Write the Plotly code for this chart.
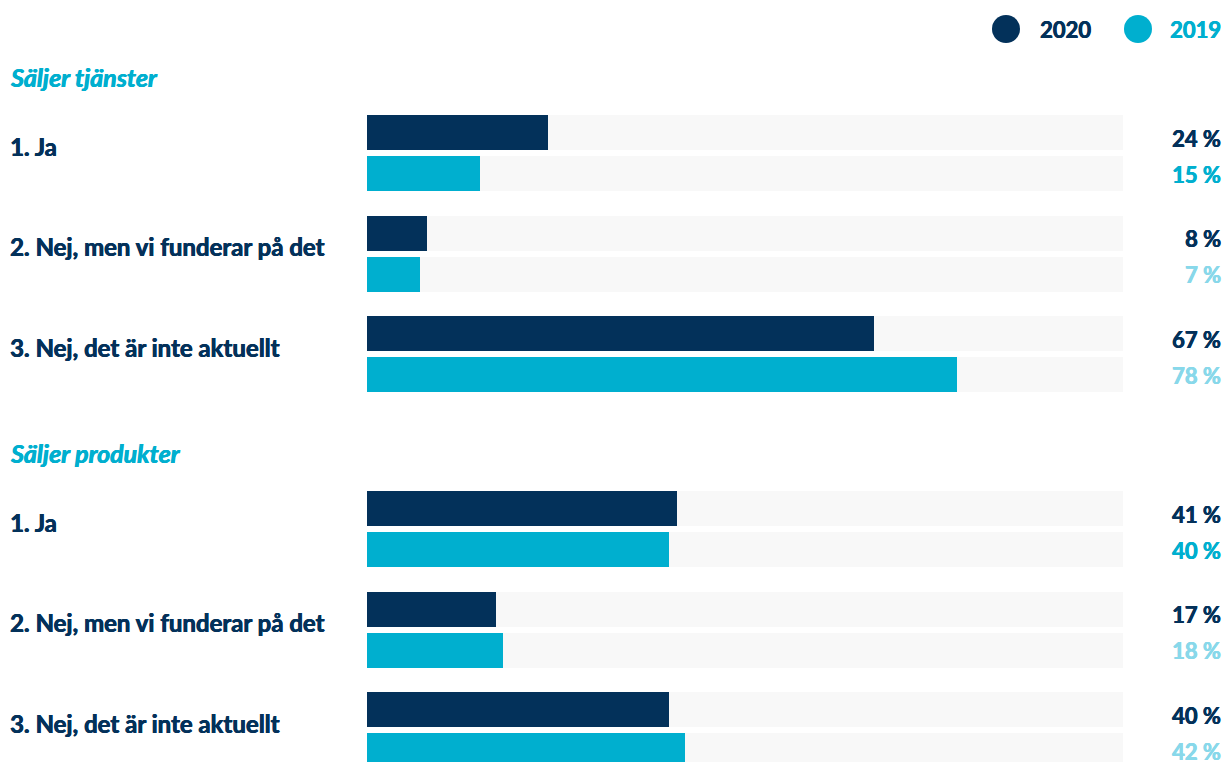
import plotly.graph_objects as go

# Survey results: share of companies (%) per answer, 2020 vs 2019
sections = ["Säljer tjänster", "Säljer produkter"]
answers = ["1. Ja", "2. Nej, men vi funderar på det", "3. Nej, det är inte aktuellt"]
values_2020 = [[24, 8, 67], [41, 17, 40]]
values_2019 = [[15, 7, 78], [40, 18, 42]]
years = ["2020", "2019"]

NAVY = "#03315a"
CYAN = "#00afcf"
LIGHT_CYAN = "#88d8ea"
TRACK = "#f8f8f8"
FONT = "Lato"

W, H = 1225, 762
PLOT_L, PLOT_R = 367, 1123          # pixel extent of the 0-100 % track
BAR_H = 35                           # bar thickness in pixels
section_tops = [77, 453]             # y pixel of each section title
ROW_START = 38                       # offset from title to first row
ROW_STEP = 100.5                     # distance between answer rows
OFF_2020, OFF_2019 = 17.5, 58.5      # bar centre offsets within a row

# 2019 value label colours: first row highlighted, others muted
label_2019_colors = [CYAN, LIGHT_CYAN, LIGHT_CYAN]


def heavy(size, color):
    """Bold font with a thin same-colour shadow for a heavier stroke."""
    return dict(family=FONT, size=size, color=color,
                shadow=f"0.45px 0 0 {color}, -0.3px 0 0 {color}")


y20, y19, x20, x19, row_tops = [], [], [], [], []
for s, top in enumerate(section_tops):
    for r in range(len(answers)):
        rt = top + ROW_START + r * ROW_STEP
        row_tops.append((s, r, rt))
        y20.append(rt + OFF_2020)
        y19.append(rt + OFF_2019)
        x20.append(values_2020[s][r])
        x19.append(values_2019[s][r])

fig = go.Figure()
fig.add_trace(go.Bar(
    x=[100] * (len(y20) + len(y19)), y=y20 + y19, orientation="h",
    width=BAR_H, marker=dict(color=TRACK, line=dict(width=0)),
    hoverinfo="skip", showlegend=False,
))
fig.add_trace(go.Bar(
    x=x20, y=y20, orientation="h", width=BAR_H, name=years[0],
    marker=dict(color=NAVY, line=dict(width=0)), showlegend=False,
))
fig.add_trace(go.Bar(
    x=x19, y=y19, orientation="h", width=BAR_H, name=years[1],
    marker=dict(color=CYAN, line=dict(width=0)), showlegend=False,
))

annotations = []
for s, top in enumerate(section_tops):
    annotations.append(dict(
        x=8 / W, xref="paper", y=top, yref="y", xanchor="left", yanchor="middle",
        text=f"<b><i>{sections[s]}</i></b>", showarrow=False,
        font=heavy(25, CYAN),
    ))
for s, r, rt in row_tops:
    annotations.append(dict(
        x=8 / W, xref="paper", y=rt + 31, yref="y", xanchor="left", yanchor="middle",
        text=f"<b>{answers[r]}</b>", showarrow=False,
        font=heavy(24, NAVY),
    ))
    annotations.append(dict(
        x=1223 / W, xref="paper", y=rt + 23, yref="y", xanchor="right", yanchor="middle",
        text=f"<b>{values_2020[s][r]} %</b>", showarrow=False,
        font=heavy(22, NAVY),
    ))
    annotations.append(dict(
        x=1223 / W, xref="paper", y=rt + 59, yref="y", xanchor="right", yanchor="middle",
        text=f"<b>{values_2019[s][r]} %</b>", showarrow=False,
        font=heavy(22, label_2019_colors[r]),
    ))

# Legend: filled circles with year labels in the top right corner
legend_items = [(years[0], NAVY, 1006, 1093), (years[1], CYAN, 1138, 1223)]
shapes = []
for label, color, cx, tx in legend_items:
    shapes.append(dict(
        type="circle", xref="paper", yref="y",
        x0=(cx - 14) / W, x1=(cx + 14) / W, y0=29 - 14, y1=29 + 14,
        fillcolor=color, line=dict(width=0),
    ))
    annotations.append(dict(
        x=tx / W, xref="paper", y=29, yref="y", xanchor="right", yanchor="middle",
        text=f"<b>{label}</b>", showarrow=False,
        font=heavy(22, color),
    ))

fig.update_layout(
    width=W, height=H,
    margin=dict(l=0, r=0, t=0, b=0),
    paper_bgcolor="white", plot_bgcolor="white",
    barmode="overlay", bargap=0,
    xaxis=dict(domain=[PLOT_L / W, PLOT_R / W], range=[0, 100],
               visible=False, fixedrange=True),
    yaxis=dict(range=[H, 0], visible=False, fixedrange=True),
    annotations=annotations, shapes=shapes,
    showlegend=False,
)

fig.write_html("out.html")
